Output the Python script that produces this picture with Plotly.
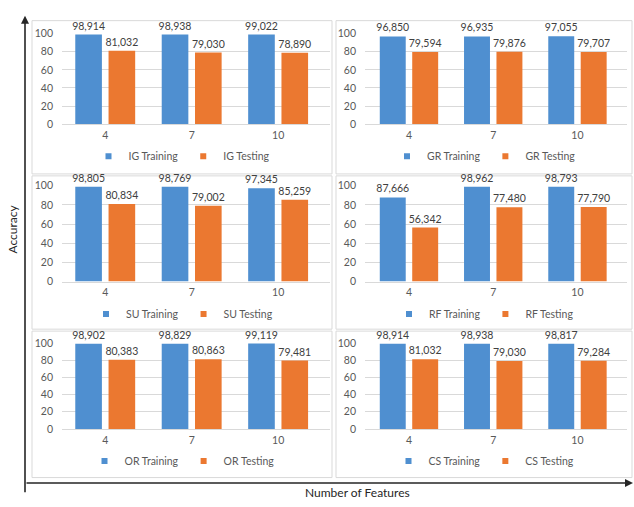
import plotly.graph_objects as go

# ---------------- data ----------------
features = ["4", "7", "10"]
methods = ["IG", "GR", "SU", "RF", "OR", "CS"]
ig_train = [98.914, 98.938, 99.022]
ig_test = [81.032, 79.030, 78.890]
gr_train = [96.850, 96.935, 97.055]
gr_test = [79.594, 79.876, 79.707]
su_train = [98.805, 98.769, 97.345]
su_test = [80.834, 79.002, 85.259]
rf_train = [87.666, 98.962, 98.793]
rf_test = [56.342, 77.480, 77.790]
or_train = [98.902, 98.829, 99.119]
or_test = [80.383, 80.863, 79.481]
cs_train = [98.914, 98.938, 98.817]
cs_test = [81.032, 79.030, 79.284]
y_ticks = [0, 20, 40, 60, 80, 100]
x_title = "Number of Features"
y_title = "Accuracy"

train_sets = [ig_train, gr_train, su_train, rf_train, or_train, cs_train]
test_sets = [ig_test, gr_test, su_test, rf_test, or_test, cs_test]

# ---------------- layout geometry (pixels) ----------------
W, H = 634, 507
FONT = "Lato"
BLUE = "#4f8fd0"
ORANGE = "#eb7830"
GRID = "#d9d9d9"
TXT = "#595959"
LBL = "#404040"

col_panel = [(32, 332), (336, 632)]
col_plot = [(62, 330), (365, 627)]
col_range = [[-0.5, 2.6], [-0.522, 2.588]]
row_panel = [(15, 172), (174, 331), (333, 483)]
row_plot = [(28.3, 121), (184, 282.3), (345, 433.3)]
row_legend = [154, 315.5, 466]


def px(x):
    return x / W


def py(y):
    return 1 - y / H


fig = go.Figure()
shapes = []
layout_axes = {}
legends = {}

for i, m in enumerate(methods):
    r, c = divmod(i, 2)
    n = i + 1
    xa = "x" if n == 1 else f"x{n}"
    ya = "y" if n == 1 else f"y{n}"
    lg = "legend" if n == 1 else f"legend{n}"

    for nm, vals, col in ((f"{m} Training", train_sets[i], BLUE),
                          (f"{m} Testing", test_sets[i], ORANGE)):
        fig.add_trace(go.Bar(
            x=features, y=vals, name=nm,
            marker=dict(color=col, line=dict(width=0)),
            texttemplate="%{y:.3f}", textposition="outside",
            cliponaxis=False, constraintext="none",
            textfont=dict(family=FONT, size=10.5, color=LBL),
            xaxis=xa, yaxis=ya, showlegend=False, hoverinfo="skip"))
    # legend entries (small square swatches like the original)
    for nm, col in ((f"{m} Training", BLUE), (f"{m} Testing", ORANGE)):
        fig.add_trace(go.Scatter(
            x=[None], y=[None], mode="markers", name=nm,
            marker=dict(symbol="square", size=6, color=col),
            xaxis=xa, yaxis=ya, legend=lg, showlegend=True))

    x0, x1 = col_plot[c]
    ytop, ybot = row_plot[r]
    layout_axes["xaxis" if n == 1 else f"xaxis{n}"] = dict(
        domain=[px(x0), px(x1)], anchor=ya, type="category",
        range=col_range[c], showgrid=False, showline=True,
        linecolor=GRID, linewidth=1, ticks="", ticklabelstandoff=1,
        tickfont=dict(family=FONT, size=10.5, color=TXT), fixedrange=True)
    layout_axes["yaxis" if n == 1 else f"yaxis{n}"] = dict(
        domain=[py(ybot), py(ytop)], anchor=xa, range=[0, 100],
        tickvals=y_ticks, showgrid=True, gridcolor=GRID, gridwidth=1,
        zeroline=False, showline=False, ticks="", ticklabelstandoff=8,
        tickfont=dict(family=FONT, size=10.5, color=TXT), fixedrange=True)

    pl, pr = col_panel[c]
    pt, pb = row_panel[r]
    shapes.append(dict(type="rect", xref="paper", yref="paper",
                       x0=px(pl), x1=px(pr), y0=py(pb), y1=py(pt),
                       line=dict(color=GRID, width=1), layer="below"))
    legends[lg] = dict(
        x=px((pl + pr) / 2), y=py(row_legend[r]), xanchor="center",
        yanchor="middle", orientation="h", bgcolor="rgba(0,0,0,0)",
        font=dict(family=FONT, size=10.5, color=TXT), itemwidth=30,
        tracegroupgap=0)

annotations = [
    # vertical axis arrow
    dict(x=px(25), y=py(10), xref="paper", yref="paper", text="",
         showarrow=True, ax=0, ay=478, arrowhead=2, arrowsize=1,
         arrowwidth=1.6, arrowcolor="#262626"),
    # horizontal axis arrow
    dict(x=px(633), y=py(488.5), xref="paper", yref="paper", text="",
         showarrow=True, ax=-608, ay=0, arrowhead=2, arrowsize=1,
         arrowwidth=1.6, arrowcolor="#262626"),
    dict(x=px(357), y=py(498), xref="paper", yref="paper", text=x_title,
         showarrow=False, xanchor="center", yanchor="middle",
         font=dict(family=FONT, size=12, color="#262626")),
    dict(x=px(13), y=py(229), xref="paper", yref="paper", text=y_title,
         showarrow=False, xanchor="center", yanchor="middle", textangle=-90,
         font=dict(family=FONT, size=12, color="#262626")),
]

fig.update_layout(
    width=W, height=H, margin=dict(l=0, r=0, t=0, b=0),
    paper_bgcolor="white", plot_bgcolor="white",
    barmode="group", bargap=0.23, bargroupgap=0.2,
    separators=",.", shapes=shapes, annotations=annotations,
    font=dict(family=FONT, size=10.5, color=TXT),
    **layout_axes, **legends)

fig.write_html(
    "out.html",
    config={"displayModeBar": False},
    post_script="document.body.style.margin='0';"
                "document.body.style.overflow='hidden';")
